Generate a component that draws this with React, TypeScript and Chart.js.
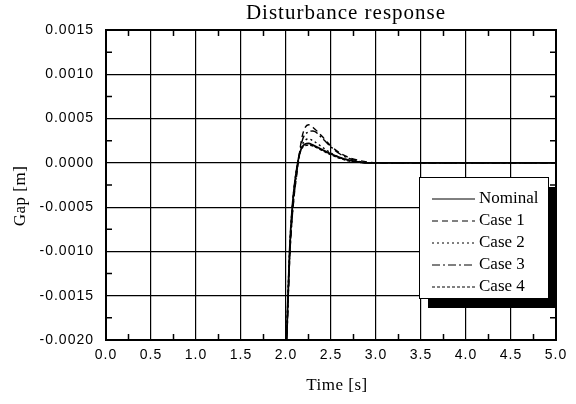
import React, { useEffect, useRef } from "react";
import { Chart, registerables } from "chart.js";

Chart.register(...registerables);

const time = [2.0, 2.04, 2.07, 2.13, 2.18, 2.25, 2.3, 2.4, 2.5, 2.6, 2.7, 2.8, 2.9, 3.0, 5.0];
const nominal = [-0.0022, -0.001, -0.0005, 0.0, 0.00018, 0.00022, 0.0002, 0.00015, 0.0001, 0.00006, 0.00003, 0.00001, 0, 0, 0];
const case1 = [-0.0023, -0.0011, -0.0006, -0.00005, 0.0003, 0.00043, 0.0004, 0.0003, 0.00019, 0.00011, 0.00006, 0.00003, 0.00001, 0, 0];
const case2 = [-0.0022, -0.001, -0.0005, 0.0, 0.0002, 0.00027, 0.00025, 0.00018, 0.00011, 0.00006, 0.00003, 0.00001, 0, 0, 0];
const case3 = [-0.0023, -0.0011, -0.0006, -0.00003, 0.00025, 0.00035, 0.00036, 0.00028, 0.00018, 0.0001, 0.00005, 0.00002, 0, 0, 0];
const case4 = [-0.0022, -0.001, -0.0005, 0.0, 0.00017, 0.0002, 0.00019, 0.00014, 0.00009, 0.00005, 0.00002, 0.00001, 0, 0, 0];

const seriesNames = ["Nominal", "Case 1", "Case 2", "Case 3", "Case 4"];
const seriesValues = [nominal, case1, case2, case3, case4];
const dashes: number[][] = [[], [6, 4], [2, 3], [8, 3, 2, 3], [3, 2]];

const titleText = "Disturbance response";
const xTitle = "Time [s]";
const yTitle = "Gap [m]";

const X_MIN = 0, X_MAX = 5, X_STEP = 0.5;
const Y_MIN = -0.002, Y_MAX = 0.0015, Y_STEP = 0.0005;

const SERIF = "'Liberation Serif', 'DejaVu Serif', serif";
const SANS = "'Liberation Sans', Arial, sans-serif";

const decorPlugin = {
  id: "decor",
  beforeDraw(chart: any) {
    chart.ctx.letterSpacing = "1px";
  },
  afterDraw(chart: any) {
    const ctx = chart.ctx;
    const a = chart.chartArea;
    const xs = chart.scales.x;
    const ys = chart.scales.y;
    ctx.save();
    // border
    ctx.strokeStyle = "#000";
    ctx.lineWidth = 2;
    ctx.strokeRect(a.left, a.top, a.right - a.left, a.bottom - a.top);
    // minor ticks
    ctx.lineWidth = 1.5;
    const tl = 6;
    for (let v = X_MIN + X_STEP / 2; v < X_MAX; v += X_STEP) {
      const px = xs.getPixelForValue(v);
      ctx.beginPath();
      ctx.moveTo(px, a.bottom);
      ctx.lineTo(px, a.bottom - tl);
      ctx.moveTo(px, a.top);
      ctx.lineTo(px, a.top + tl);
      ctx.stroke();
    }
    for (let v = Y_MIN + Y_STEP / 2; v < Y_MAX; v += Y_STEP) {
      const py = ys.getPixelForValue(v);
      ctx.beginPath();
      ctx.moveTo(a.left, py);
      ctx.lineTo(a.left + tl, py);
      ctx.moveTo(a.right, py);
      ctx.lineTo(a.right - tl, py);
      ctx.stroke();
    }
    // titles
    ctx.fillStyle = "#000";
    ctx.textAlign = "center";
    ctx.textBaseline = "middle";
    ctx.letterSpacing = "1px";
    ctx.font = `21px ${SERIF}`;
    ctx.fillText(titleText, 346, 13);
    ctx.letterSpacing = "0.5px";
    ctx.font = `17px ${SERIF}`;
    ctx.fillText(xTitle, 337, 386);
    ctx.save();
    ctx.translate(21, 196);
    ctx.rotate(-Math.PI / 2);
    ctx.fillText(yTitle, 0, 0);
    ctx.restore();
    // legend
    const lx = 419, ly = 177, lw = 129, lh = 121;
    ctx.fillStyle = "#000";
    ctx.fillRect(lx + 9, ly + 10, lw, lh);
    ctx.fillStyle = "#fff";
    ctx.fillRect(lx, ly, lw, lh);
    ctx.strokeStyle = "#000";
    ctx.lineWidth = 1;
    ctx.strokeRect(lx + 0.5, ly + 0.5, lw, lh);
    ctx.letterSpacing = "0px";
    ctx.font = `17px ${SERIF}`;
    ctx.textAlign = "left";
    ctx.fillStyle = "#000";
    seriesNames.forEach((name, i) => {
      const y = 199 + i * 22;
      ctx.beginPath();
      ctx.setLineDash(dashes[i]);
      ctx.lineWidth = 1;
      ctx.moveTo(432, y);
      ctx.lineTo(475, y);
      ctx.stroke();
      ctx.setLineDash([]);
      ctx.fillText(name, 479, y);
    });
    ctx.restore();
    ctx.letterSpacing = "0px";
  },
};

export default function App() {
  const ref = useRef<HTMLCanvasElement>(null);
  useEffect(() => {
    const chart = new Chart(ref.current!, {
      type: "line",
      data: {
        datasets: seriesNames.map((name, i) => ({
          label: name,
          data: time.map((t, j) => ({ x: t, y: seriesValues[i][j] })),
          borderColor: "#000",
          borderWidth: i === 0 ? 1.8 : 1.4,
          borderDash: dashes[i],
          pointRadius: 0,
          fill: false,
          cubicInterpolationMode: "monotone" as const,
        })),
      },
      plugins: [decorPlugin],
      options: {
        responsive: false,
        animation: false,
        layout: { padding: { top: 30, right: 20, left: 0, bottom: 0 } },
        plugins: { legend: { display: false }, title: { display: false }, tooltip: { enabled: false } },
        scales: {
          x: {
            type: "linear",
            min: X_MIN,
            max: X_MAX,
            afterFit: (s: any) => { s.height = 64; },
            ticks: {
              stepSize: X_STEP,
              color: "#000",
              font: { family: SANS, size: 14 },
              padding: 7,
              maxRotation: 0,
              callback: (v: any) => Number(v).toFixed(1),
            },
            grid: { color: "#000", lineWidth: 1.2, drawTicks: false },
            border: { display: false },
          },
          y: {
            type: "linear",
            min: Y_MIN,
            max: Y_MAX,
            afterFit: (s: any) => { s.width = 106; },
            ticks: {
              stepSize: Y_STEP,
              color: "#000",
              font: { family: SANS, size: 14 },
              padding: 12,
              callback: (v: any) => Number(v).toFixed(4),
            },
            grid: { color: "#000", lineWidth: 1.2, drawTicks: false },
            border: { display: false },
          },
        },
      },
    });
    return () => chart.destroy();
  }, []);
  return (
    <div style={{ position: "absolute", left: 0, top: 0, width: 576, height: 404, background: "#fff" }}>
      <canvas ref={ref} width={576} height={404} />
    </div>
  );
}
